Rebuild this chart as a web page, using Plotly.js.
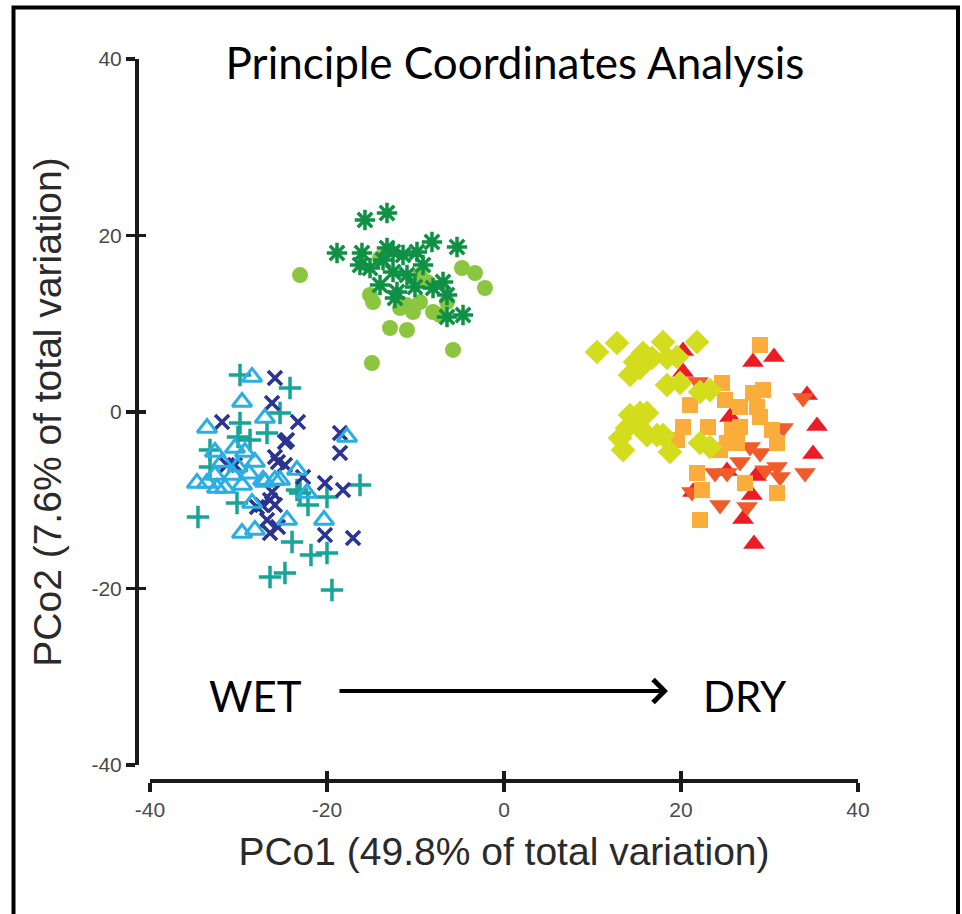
<!DOCTYPE html>
<html>
<head>
<meta charset="utf-8">
<script src="https://cdn.plot.ly/plotly-3.0.1.min.js"></script>
<style>html,body{margin:0;padding:0;background:#fff;}#chart{width:962px;height:914px;}</style>
</head>
<body>
<div id="chart"></div>
<script>
// ---- data (PCo1, PCo2) ----
var wetTriX = [-28.47,-29.60,-33.56,-27.01,-17.74,-34.69,-33.56,-32.43,-31.86,-30.40,-29.27,-28.14,-32.66,-30.62,-29.60,-31.53,-27.01,-25.88,-28.47,-32.66,-23.39,-22.26,-20.34,-24.52,-29.60,-28.14,-25.31,-27.23,-30.10,-28.80];
var wetTriY = [3.97,1.13,-1.81,-0.68,-2.83,-8.05,-8.05,-8.61,-5.67,-4.08,-4.53,-5.67,-7.14,-7.14,-8.27,-8.61,-7.93,-7.71,-10.31,-4.53,-6.57,-9.18,-12.24,-12.24,-13.71,-13.37,-7.71,-7.71,-6.20,-7.00];

var wetXX = [-25.88,-26.21,-31.86,-24.75,-25.54,-24.75,-26.21,-25.88,-27.34,-30.40,-31.30,-23.28,-24.52,-18.53,-18.53,-25.88,-22.71,-20.23,-18.19,-26.44,-26.78,-25.54,-26.44,-20.23,-17.06,-27.91];
var wetXY = [3.85,1.02,-1.13,-3.40,-5.67,-6.01,-9.07,-10.54,-10.54,-6.01,-6.01,-1.13,-3.17,-4.65,-2.38,-5.10,-7.37,-8.05,-8.84,-9.97,-12.24,-13.03,-13.71,-13.94,-14.28,-10.76];

var wetPlusX = [-29.83,-24.18,-25.31,-34.58,-16.27,-23.95,-21.81,-20.00,-26.44,-24.75,-19.44,-33.22,-33.22,-29.83,-30.06,-28.70,-26.78,-23.05,-20.00,-30.17,-22.15,-23.39];
var wetPlusY = [4.19,2.72,-0.11,-11.90,-8.27,-14.73,-16.20,-15.98,-18.70,-18.24,-20.17,-4.31,-6.23,-1.25,-2.83,-3.17,-2.38,-9.18,-9.63,-10.31,-10.54,-8.84];

var midStarX = [-15.71,-13.22,-18.87,-16.05,-16.27,-15.14,-13.22,-12.54,-13.67,-11.41,-9.83,-8.14,-5.31,-9.15,-12.54,-14.01,-12.09,-10.06,-8.02,-6.89,-6.44,-6.44,-4.63,-12.32,-10.96];
var midStarY = [21.76,22.55,18.02,18.02,16.66,16.32,18.58,18.13,17.22,17.79,18.13,19.26,18.70,16.66,15.86,14.39,13.60,14.16,14.05,14.73,13.26,10.76,10.99,12.92,15.52];

var midDotX = [-23.05,-4.75,-3.28,-2.15,-14.80,-12.88,-10.96,-5.76,-14.92,-15.14,-10.96,-9.49,-10.28,-8.02,-8.70,-11.75,-6.44,-7.23,-14.01,-9.49];
var midDotY = [15.52,16.32,15.75,14.05,12.46,9.52,9.29,7.03,5.55,13.26,12.12,12.46,11.33,11.33,14.73,11.78,12.46,10.99,17.45,15.52];

var dryDiaX = [10.51,12.77,17.97,21.81,15.71,14.80,16.72,18.42,19.55,14.24,15.37,18.42,19.89,22.15,23.28,14.24,15.37,16.16,13.90,15.03,16.16,17.29,13.45,18.76,22.15,23.28,13.11,17.97];
var dryDiaY = [6.80,7.82,7.93,7.93,6.69,5.67,6.12,6.12,6.23,4.19,4.99,3.06,3.29,2.27,2.49,-0.34,-0.11,-0.11,-1.81,-1.47,-2.61,-2.61,-4.31,-4.53,-3.51,-3.97,-2.95,-2.61];

var drySqX = [28.93,24.63,24.97,21.02,26.67,28.14,29.27,28.59,20.23,23.05,25.76,26.67,19.55,25.20,26.33,30.28,30.85,21.81,22.37,27.23,30.85,22.15,28.93,24.41];
var drySqY = [7.59,3.29,1.36,0.79,0.57,2.15,2.49,0.57,-1.70,-1.70,-2.04,-1.70,-3.17,-3.51,-3.51,-2.04,-3.51,-6.91,-8.84,-8.05,-9.18,-12.24,-0.57,-4.31];

var dryDownX = [21.92,33.79,31.53,21.24,24.41,27.46,34.01,23.84,25.20,30.85,28.93,27.80,31.19,26.67,29.50];
var dryDownY = [3.40,1.59,-1.81,-9.07,-10.54,-10.76,-6.91,-6.91,-6.91,-6.23,-4.65,-3.97,-7.37,-5.67,-6.60];

var dryUpX = [20.23,28.14,30.51,20.23,34.24,35.37,34.92,28.47,28.02,27.01,28.25,25.20,25.54,21.36];
var dryUpY = [6.91,5.67,6.23,4.53,1.93,-1.59,-4.76,-7.25,-9.41,-12.12,-14.96,-6.69,-0.57,-9.07];

var tickVals = [-40, -20, 0, 20, 40];
var tickText = ['-40', '-20', '0', '20', '40'];
var titleText = 'Principle Coordinates Analysis';
var xTitle = 'PCo1 (49.8% of total variation)';
var yTitle = 'PCo2 (7.6% of total variation)';
var gradientLabels = ['WET', 'DRY'];

// ---- layout geometry (pixels) ----
var W = 962, H = 914;
var M = {l: 130, r: 100, t: 40, b: 120};
var PW = W - M.l - M.r, PH = H - M.t - M.b;
function fx(p) { return (p - M.l) / PW; }
function fy(p) { return (H - M.b - p) / PH; }

var axFont = {family: 'Liberation Sans, Arial, sans-serif', size: 21, color: '#4a4a4a'};
var ttlFont = {family: 'Liberation Sans, Arial, sans-serif', size: 39, color: '#2a2a2a'};
var lineCol = '#1a1a1a';

function sc(x, y, sym, col, size, lw, open) {
  var m = {symbol: sym, size: size, color: col};
  if (open) m.line = {color: col, width: lw};
  else m.line = {width: 0};
  return {type: 'scatter', mode: 'markers', x: x, y: y, marker: m, showlegend: false, hoverinfo: 'x+y'};
}

var data = [
  sc(wetPlusX, wetPlusY, 'cross-thin-open', '#16a596', 16, 3.5, true),
  sc(wetXX, wetXY, 'x-thin-open', '#2b3490', 14, 3.6, true),
  sc(wetTriX, wetTriY, 'triangle-up-open', '#2aaee3', 17, 3, true),
  sc(midDotX, midDotY, 'circle', '#8cc53f', 16, 0, false),
  sc(midStarX, midStarY, 'asterisk-open', '#0f9145', 17, 3.5, true),
  sc(dryUpX, dryUpY, 'triangle-up', '#ec1c24', 19, 0, false),
  sc(dryDownX, dryDownY, 'triangle-down', '#f15a29', 19, 0, false),
  sc(drySqX, drySqY, 'square', '#fbad3c', 16, 0, false),
  sc(dryDiaX, dryDiaY, 'diamond', '#d3dd1d', 19, 0, false),
  {type: 'scatter', mode: 'markers', x: [], y: [], xaxis: 'x2', yaxis: 'y2', showlegend: false, hoverinfo: 'skip'}
];

var xDom = [fx(150), fx(858)];
var yDom = [fy(765), fy(59)];

var layout = {
  width: W, height: H, autosize: false,
  margin: M,
  paper_bgcolor: '#ffffff', plot_bgcolor: 'rgba(0,0,0,0)',
  showlegend: false,
  title: {
    text: titleText, xref: 'container', yref: 'container',
    x: 515 / W, xanchor: 'center', y: 1 - 64 / H, yanchor: 'middle',
    font: {family: 'Lato, Carlito, sans-serif', size: 44, color: '#000000'}
  },
  xaxis: {
    domain: xDom, range: [-40, 40], anchor: 'free', position: fy(780),
    showline: true, linewidth: 3.5, linecolor: lineCol, mirror: false,
    ticks: 'outside', ticklen: 9, tickwidth: 3.5, tickcolor: lineCol,
    tickmode: 'array', tickvals: tickVals, ticktext: tickText, tickfont: axFont,
    showgrid: false, zeroline: false, fixedrange: true,
    title: {text: xTitle, font: ttlFont, standoff: 18}
  },
  yaxis: {
    domain: yDom, range: [-40, 40], anchor: 'free', position: fx(136),
    showline: true, linewidth: 3.5, linecolor: lineCol, mirror: false,
    ticks: 'outside', ticklen: 9, tickwidth: 3.5, tickcolor: lineCol,
    tickmode: 'array', tickvals: tickVals, ticktext: tickText, tickfont: axFont,
    showgrid: false, zeroline: false, fixedrange: true,
    title: {text: yTitle, font: ttlFont, standoff: 16}
  },
  xaxis2: {
    domain: xDom, range: [-40, 40], anchor: 'free', position: fy(780), overlaying: 'x',
    showline: false, ticks: 'inside', ticklen: 9, tickwidth: 3.5, tickcolor: lineCol,
    tickmode: 'array', tickvals: tickVals, showticklabels: false,
    showgrid: false, zeroline: false, fixedrange: true
  },
  yaxis2: {
    domain: yDom, range: [-40, 40], anchor: 'free', position: fx(136), overlaying: 'y',
    showline: false, ticks: 'inside', ticklen: 9, tickwidth: 3.5, tickcolor: lineCol,
    tickmode: 'array', tickvals: tickVals, showticklabels: false,
    showgrid: false, zeroline: false, fixedrange: true
  },
  annotations: [
    {xref: 'paper', yref: 'paper', x: fx(255), y: fy(696), xanchor: 'center', yanchor: 'middle',
     text: gradientLabels[0], showarrow: false, font: {family: 'Lato, Carlito, sans-serif', size: 42, color: '#000000'}},
    {xref: 'paper', yref: 'paper', x: fx(745), y: fy(696), xanchor: 'center', yanchor: 'middle',
     text: gradientLabels[1], showarrow: false, font: {family: 'Lato, Carlito, sans-serif', size: 42, color: '#000000'}},
    {xref: 'paper', yref: 'paper', x: fx(668), y: fy(691), text: '', showarrow: true,
     axref: 'pixel', ayref: 'pixel', ax: -330, ay: 0,
     arrowhead: 4, arrowsize: 1.1, arrowwidth: 4, arrowcolor: '#000000', standoff: 0, startstandoff: 0}
  ],
  shapes: [
    {type: 'rect', xref: 'paper', yref: 'paper', x0: fx(13.5), x1: fx(958), y0: fy(960), y1: fy(7.5),
     line: {color: '#000000', width: 4}, fillcolor: 'rgba(0,0,0,0)', layer: 'above'}
  ]
};

Plotly.newPlot('chart', data, layout, {displayModeBar: false, staticPlot: true});
</script>
</body>
</html>
